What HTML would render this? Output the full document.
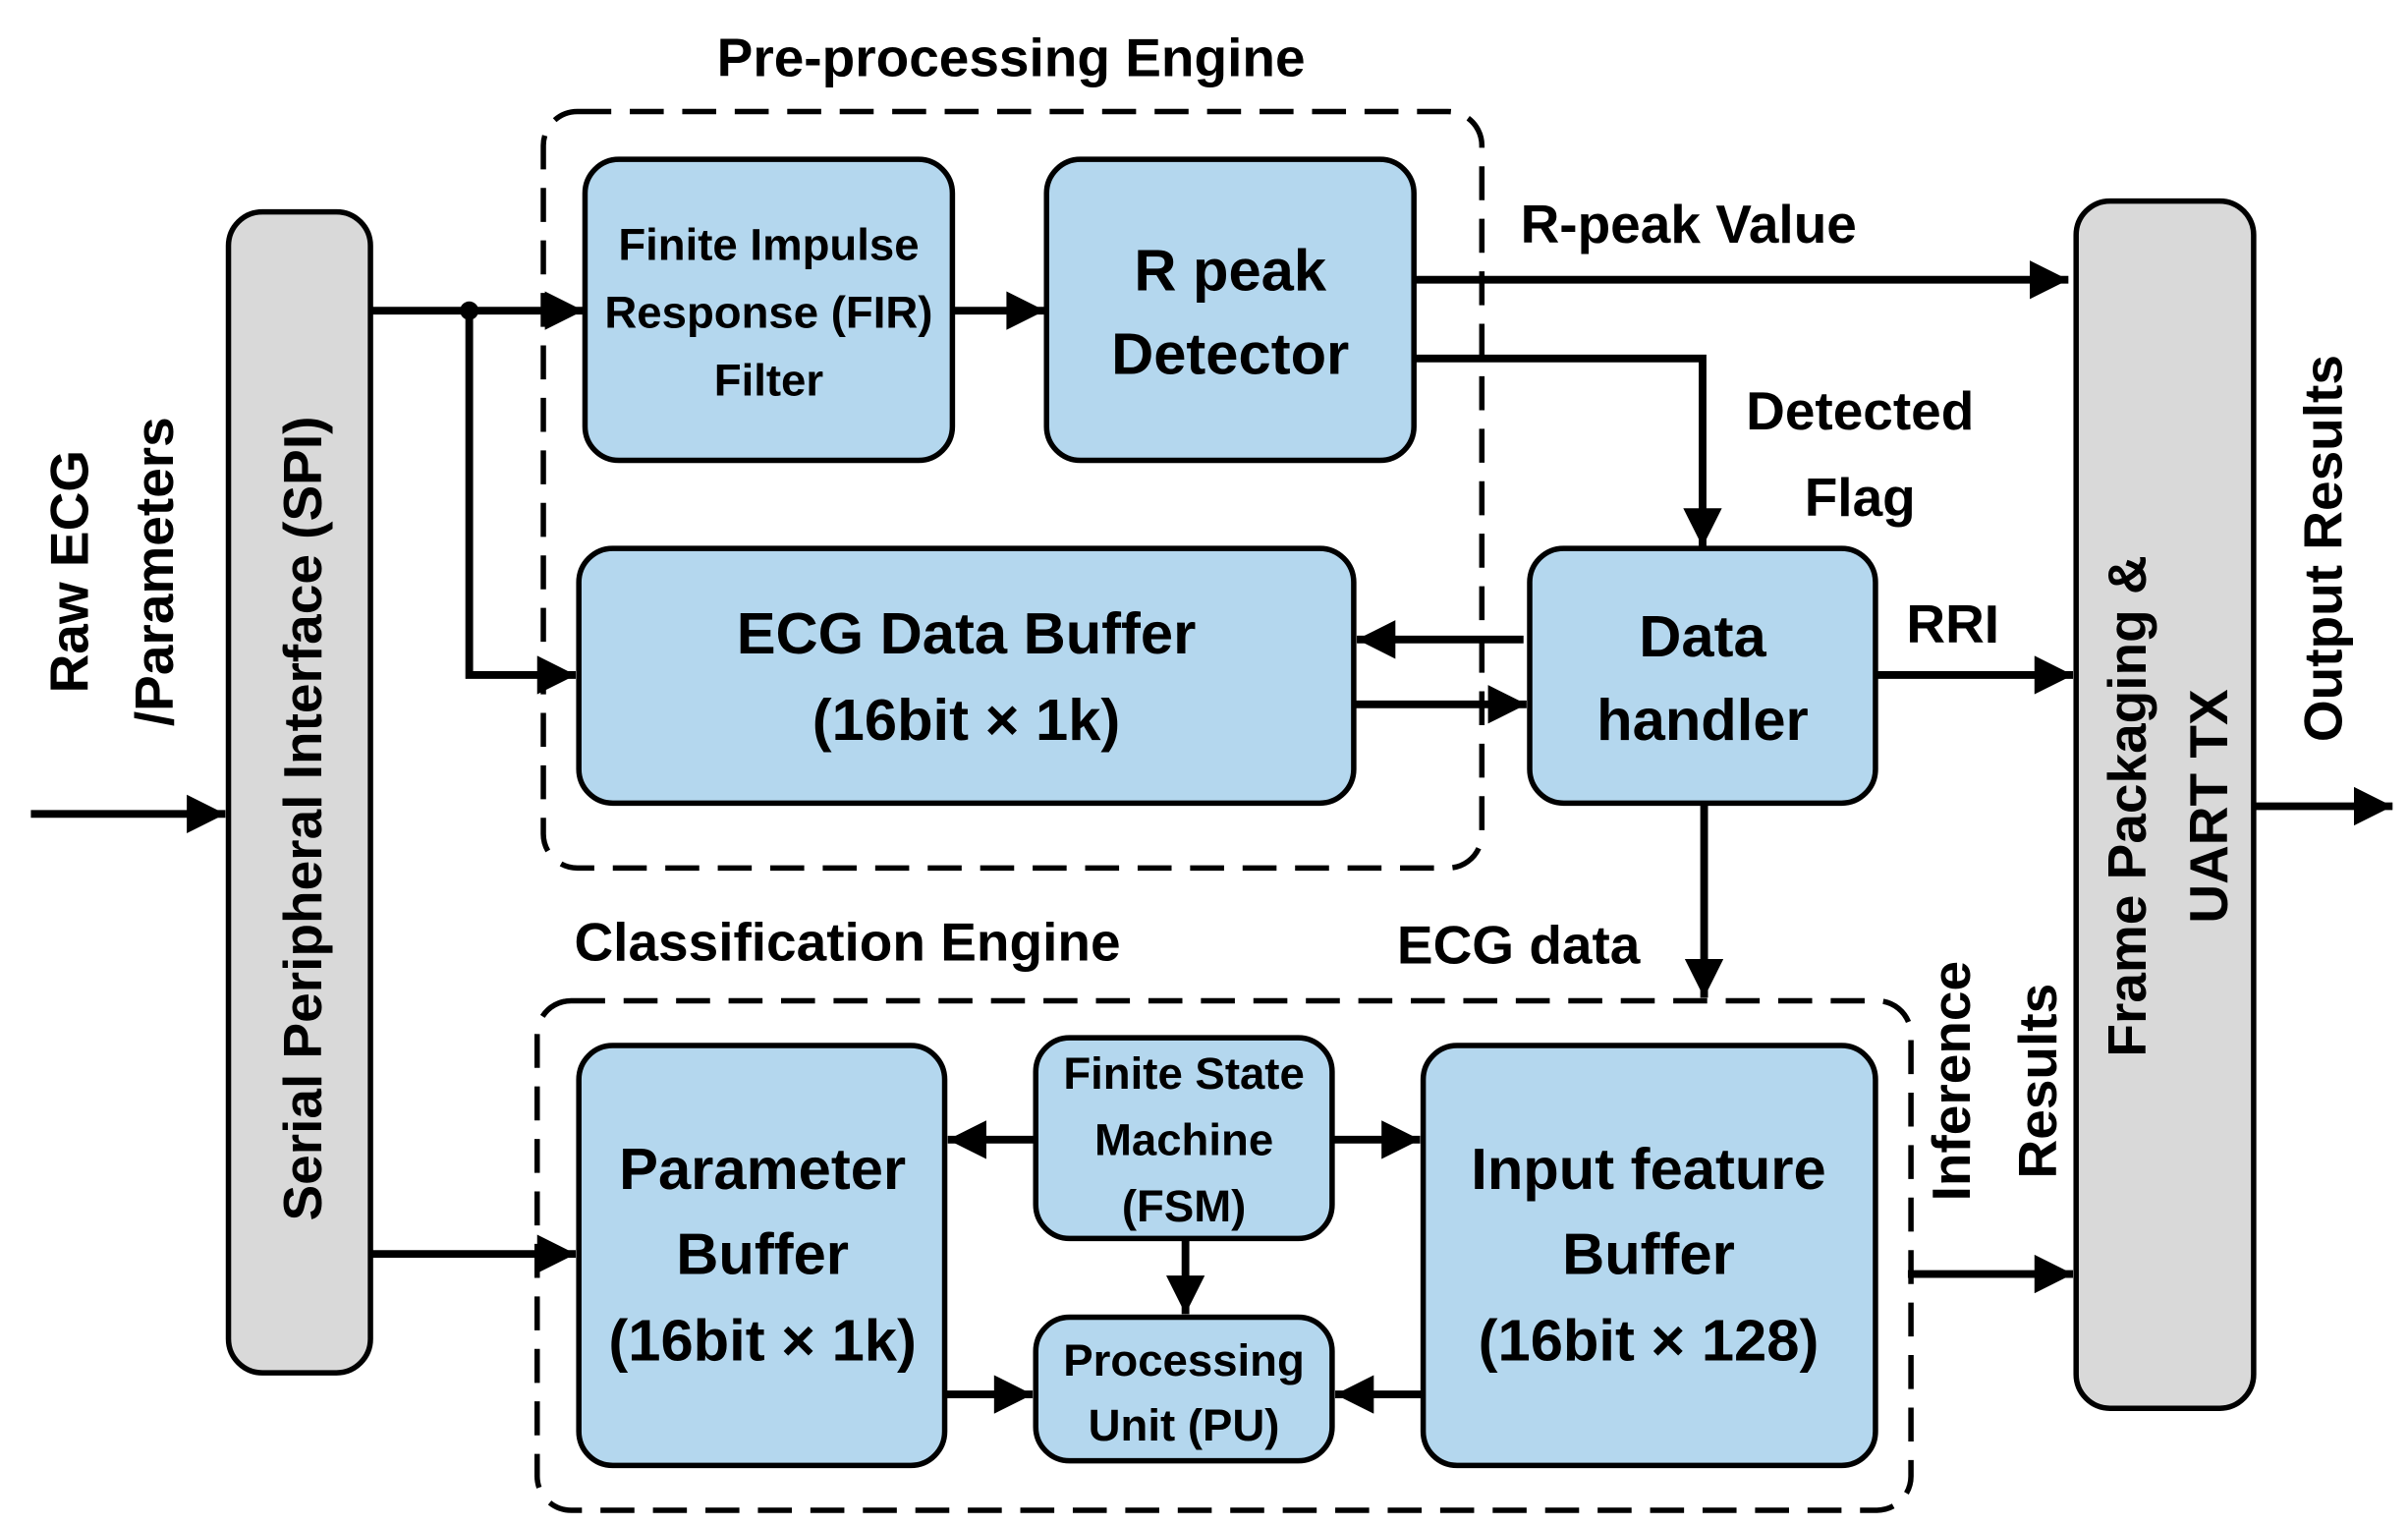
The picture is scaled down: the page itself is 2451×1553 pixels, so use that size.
<!DOCTYPE html>
<html><head><meta charset="utf-8"><style>
html,body{margin:0;padding:0;background:#fff;}
svg{display:block;}
text{font-family:"Liberation Sans",sans-serif;font-weight:bold;fill:#000;}
</style></head><body>
<svg width="2451" height="1553" viewBox="0 0 1560 988" xmlns="http://www.w3.org/2000/svg">
<defs>
<marker id="a" viewBox="0 0 10 10" refX="10" refY="5" markerWidth="6" markerHeight="5" markerUnits="strokeWidth" orient="auto">
<path d="M0,0 L10,5 L0,10 z" fill="#000"/></marker>
</defs>
<g fill="none" stroke="#000" stroke-width="3.5" stroke-dasharray="22,12">
<rect x="352" y="72" width="608" height="490" rx="22"/>
<rect x="348" y="648" width="890" height="330" rx="22"/>
</g>
<g stroke="#000" stroke-width="3.5">
<rect x="148" y="137" width="92" height="752" rx="22" fill="#d9d9d9"/>
<rect x="1345" y="130" width="115" height="782" rx="22" fill="#d9d9d9"/>
<g fill="#b4d7ee">
<rect x="379" y="103" width="238" height="195" rx="22"/>
<rect x="678" y="103" width="238" height="195" rx="22"/>
<rect x="375" y="355" width="502" height="165" rx="22"/>
<rect x="991" y="355" width="224" height="165" rx="22"/>
<rect x="375" y="677" width="237" height="272" rx="22"/>
<rect x="671" y="672" width="192" height="130" rx="22"/>
<rect x="671" y="853" width="192" height="93" rx="22"/>
<rect x="922" y="677" width="293" height="272" rx="22"/>
</g>
</g>
<g fill="none" stroke="#000" stroke-width="5" marker-end="url(#a)">
<path d="M20,527 H146"/>
<path d="M240,201 H378"/>
<path d="M304,201 V437 H373"/>
<path d="M617,201 H677"/>
<path d="M916,181 H1340"/>
<path d="M916,232 H1103 V354"/>
<path d="M987,414 H879"/>
<path d="M877,456 H989"/>
<path d="M1215,437 H1343"/>
<path d="M1104,520 V646"/>
<path d="M1460,522 H1550"/>
<path d="M240,812 H373"/>
<path d="M671,738 H614"/>
<path d="M863,738 H920"/>
<path d="M768,802 V851"/>
<path d="M612,903 H669"/>
<path d="M922,903 H865"/>
<path d="M1236,825 H1343"/>
</g>
<circle cx="304" cy="201" r="6" fill="#000"/>
<text x="655" y="49" font-size="35" text-anchor="middle">Pre-processing Engine</text>
<text x="372" y="622" font-size="35">Classification Engine</text>
<text x="905" y="624" font-size="35">ECG data</text>
<text x="985" y="157" font-size="35">R-peak Value</text>
<text x="1205" y="278" font-size="35" text-anchor="middle">Detected</text>
<text x="1205" y="334" font-size="35" text-anchor="middle">Flag</text>
<text x="1235" y="416" font-size="35">RRI</text>
<g font-size="29" text-anchor="middle">
<text x="498" y="168">Finite Impulse</text>
<text x="498" y="212">Response (FIR)</text>
<text x="498" y="256">Filter</text>
<text x="767" y="705">Finite State</text>
<text x="767" y="748">Machine</text>
<text x="767" y="791">(FSM)</text>
<text x="767" y="891">Processing</text>
<text x="767" y="933">Unit (PU)</text>
</g>
<g font-size="38" text-anchor="middle">
<text x="797" y="188">R peak</text>
<text x="797" y="242">Detector</text>
<text x="626" y="423">ECG Data Buffer</text>
<text x="626" y="479">(16bit × 1k)</text>
<text x="1103" y="425">Data</text>
<text x="1103" y="479">handler</text>
<text x="494" y="770">Parameter</text>
<text x="494" y="825">Buffer</text>
<text x="494" y="881">(16bit × 1k)</text>
<text x="1068" y="770">Input feature</text>
<text x="1068" y="825">Buffer</text>
<text x="1068" y="881">(16bit × 128)</text>
</g>
<g font-size="35" text-anchor="middle">
<text transform="translate(208,530) rotate(-90)">Serial Peripheral Interface (SPI)</text>
<text transform="translate(57,370) rotate(-90)">Raw ECG</text>
<text transform="translate(112,370) rotate(-90)">/Parameters</text>
<text transform="translate(1390,522) rotate(-90)">Frame Packaging &amp;</text>
<text transform="translate(1443,522) rotate(-90)">UART TX</text>
<text transform="translate(1517,355) rotate(-90)">Output Results</text>
<text transform="translate(1276,700) rotate(-90)">Inference</text>
<text transform="translate(1332,700) rotate(-90)">Results</text>
</g>
</svg>
</body></html>
